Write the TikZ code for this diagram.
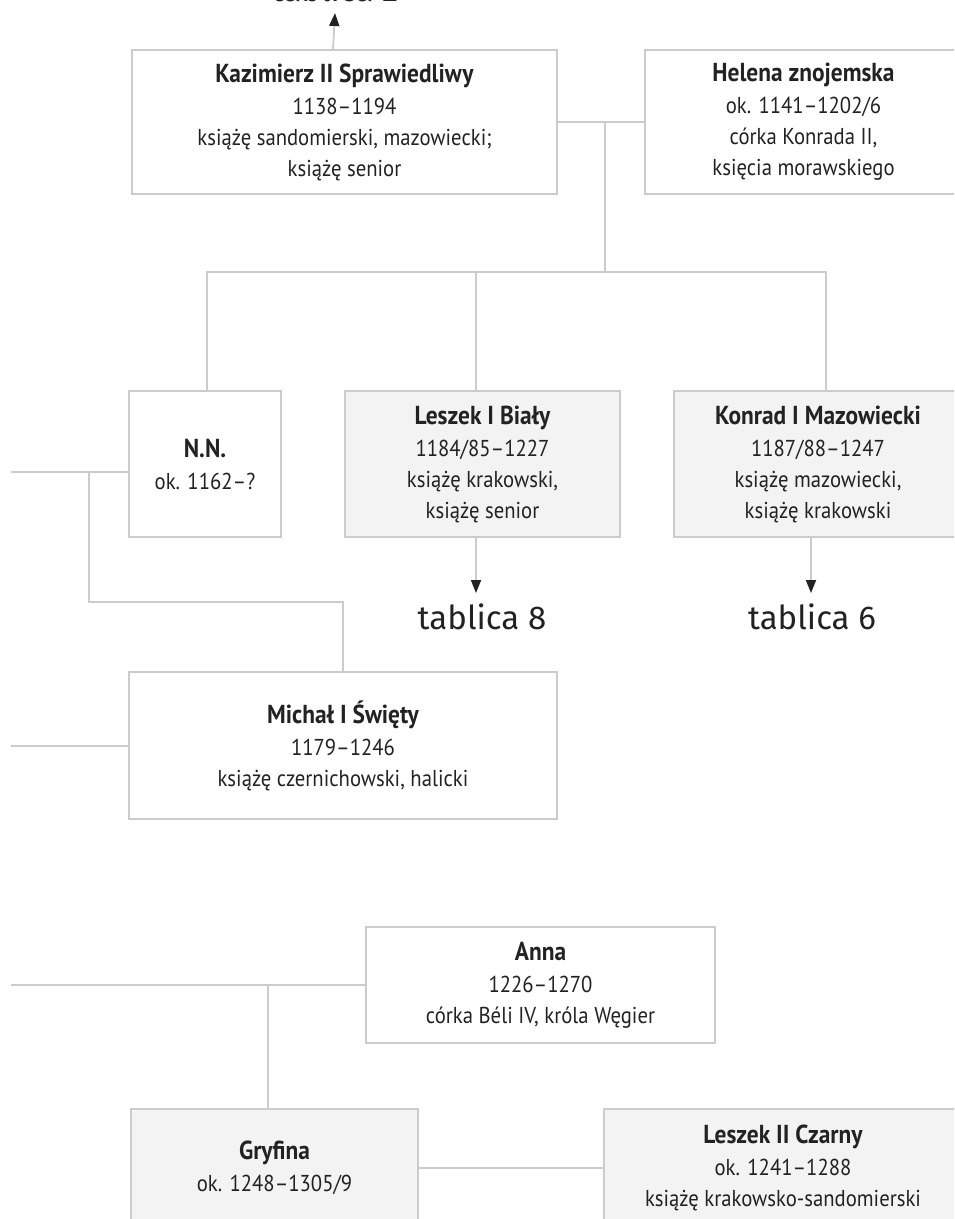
\documentclass[tikz,border=0pt]{standalone}
\usepackage{fontspec}
\setmainfont[FakeStretch=0.9]{PT Sans}
\newfontfamily\tabfont{Fira Sans}
\usetikzlibrary{arrows.meta}
\definecolor{linegray}{HTML}{CCCCCC}
\definecolor{boxfill}{HTML}{F3F3F3}
\definecolor{ink}{HTML}{222222}
\newcommand{\pname}[1]{{\fontsize{26}{31}\selectfont\bfseries #1}\\[1pt]}
\tikzset{
  person/.style={draw=linegray, line width=1.8pt, inner sep=0pt, align=center,
    text=ink, font=\fontsize{23}{31}\selectfont},
  ruler/.style={person, fill=boxfill},
  link/.style={draw=linegray, line width=1.8pt},
  ref/.style={font=\tabfont\fontsize{33}{36}\selectfont, text=ink, inner sep=0pt},
  refarrow/.style={link, -{Triangle[color=ink, width=10pt, length=13pt]}}
}
\begin{document}
\begin{tikzpicture}[x=1pt, y=-1pt]
\useasboundingbox (0,0) rectangle (954,1219);
\clip (0,0) rectangle (954,1219);

% parents
\node[person, minimum width=425pt, minimum height=144pt] (kaz) at (344.5,122)
  {\pname{Kazimierz II Sprawiedliwy}1138–1194\\książę sandomierski, mazowiecki;\\książę senior};
\node[person, minimum width=317pt, minimum height=144pt] (hel) at (803.5,122)
  {\pname{Helena znojemska}ok. 1141–1202/6\\córka Konrada II,\\księcia morawskiego};

% children
\node[person, minimum width=152pt, minimum height=146pt] (nn) at (205,464)
  {\pname{N.N.}ok. 1162–?};
\node[ruler, minimum width=275pt, minimum height=146pt] (les) at (482.5,464)
  {\pname{Leszek I Biały}1184/85–1227\\książę krakowski,\\książę senior};
\node[ruler, minimum width=288pt, minimum height=146pt] (kon) at (818,464)
  {\pname{Konrad I Mazowiecki}1187/88–1247\\książę mazowiecki,\\książę krakowski};

\node[person, minimum width=428pt, minimum height=147pt] (mic) at (343,745.5)
  {\pname{Michał I Święty}1179–1246\\książę czernichowski, halicki};

\node[person, minimum width=349pt, minimum height=116pt] (ann) at (540.5,985)
  {\pname{Anna}1226–1270\\córka Béli IV, króla Węgier};

\node[ruler, minimum width=287pt, minimum height=118pt] (gry) at (274.5,1168)
  {\pname{Gryfina}ok. 1248–1305/9};
\node[ruler, minimum width=358pt, minimum height=118pt] (les2) at (783,1168)
  {\pname{Leszek II Czarny}ok. 1241–1288\\książę krakowsko-sandomierski};

% table references
\node[ref, anchor=base] (t2) at (335,1) {tablica 2};
\node[ref] (t8) at (482,617) {tablica 8};
\node[ref] (t6) at (812,617) {tablica 6};

% marriage and descent
\coordinate (m1) at (605,122);
\coordinate (bar) at (605,272);
\draw[link] (kaz) -- (hel);
\draw[link] (m1) -- (bar);
\draw[link] (bar) -| ([xshift=2pt]nn.north);
\draw[link] (bar) -| ([xshift=-6.5pt]les.north);
\draw[link] (bar) -| ([xshift=8pt]kon.north);

\draw[refarrow] ([xshift=-11.5pt]kaz.north) -- (335,13);
\draw[refarrow] ([xshift=-6.5pt]les.south) -- (476,593);
\draw[refarrow] ([xshift=-7pt]kon.south) -- (811,593);

% side lines
\coordinate (nnl) at (11,472);
\coordinate (nnd) at (89,472);
\coordinate (mik) at (89,602);
\draw[link] (nnl) -- (nnl -| nn.west);
\draw[link] (nnd) -- (mik) -| (mic.north);

\coordinate (micl) at (11,746);
\draw[link] (micl) -- (micl -| mic.west);

\coordinate (annl) at (11,985);
\coordinate (annd) at (268,985);
\draw[link] (annl) -- (ann.west);
\draw[link] (annd) -- (annd |- gry.north);
\draw[link] (gry) -- (les2);
\end{tikzpicture}
\end{document}
